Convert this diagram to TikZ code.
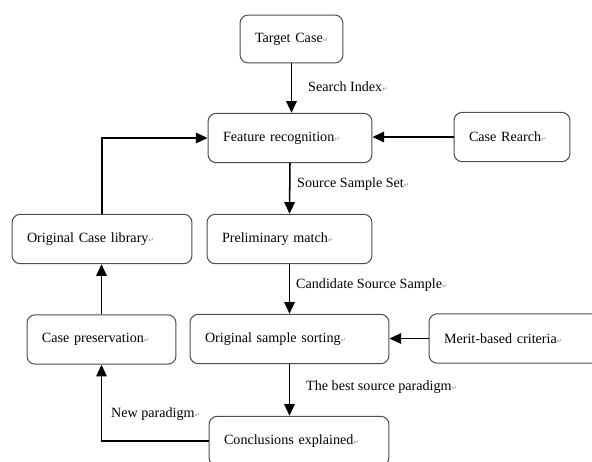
\documentclass[tikz,border=0pt]{standalone}
\usepackage{fontspec}
\setmainfont{Liberation Serif}
\newfontfamily\markfont{DejaVu Sans}
\usetikzlibrary{arrows.meta}

% paragraph mark as printed after each text
\newcommand{\pmark}{{\markfont\fontsize{5.5}{6}\selectfont\textcolor{black!45}{↵}}}

\tikzset{
  stepbox/.style={draw=black!70, line width=0.85pt, rounded corners=7pt,
    align=left, inner xsep=12.75pt, inner ysep=0pt, minimum height=42pt},
  flow/.style={line width=1.3pt, -{Triangle[length=10pt,width=9pt]}},
  lbl/.style={anchor=west, inner sep=0pt}
}

\begin{document}
\begin{tikzpicture}[x=0.8504pt, y=-0.8504pt, font=\fontsize{12}{14}\selectfont]

  \useasboundingbox (0,0) rectangle (592,462);

  % ---------- boxes ----------
  \node[stepbox, text width=62pt, minimum height=40.8pt] (target) at (291.5,39) {\mbox{Target Case\pmark}};
  \node[stepbox, text width=113.9pt] (feature) at (290,138) {Feature recognition\pmark};
  \node[stepbox, text width=73.1pt]  (rearch)  at (512,137) {Case Rearch\pmark};
  \node[stepbox, text width=114.8pt] (prelim)  at (289.5,239) {Preliminary match\pmark};
  \node[stepbox, text width=127.5pt] (library) at (102,239) {Original Case library\pmark};
  \node[stepbox, text width=143.7pt] (sorting) at (289.5,339) {Original sample sorting\pmark};
  \node[stepbox, text width=128.4pt] (merit)   at (519.5,338.5) {Merit-based criteria\pmark};
  \node[stepbox, text width=101.2pt] (preserve) at (101.5,339.5) {Case preservation\pmark};
  \node[stepbox, text width=127.5pt] (concl)   at (299,441) {Conclusions explained\pmark};

  % ---------- main flow ----------
  \draw[flow] (target.south) -- (target.south |- feature.north);
  \draw[flow] (feature.south) -- (prelim.north);
  \draw[flow] (prelim.south) -- (sorting.north);
  \draw[flow] (sorting.south) -- (sorting.south |- concl.north);

  % ---------- side inputs ----------
  \draw[flow] (rearch.west) -- (rearch.west -| feature.east);
  \draw[flow] (merit.west) -- (merit.west -| sorting.east);

  % ---------- feedback loop ----------
  \draw[flow] (concl.west) -| (preserve.south);
  \draw[flow] (preserve.north) -- (preserve.north |- library.south);
  \draw[flow] (library.north) |- (feature.west);

  % ---------- labels ----------
  \node[lbl] (lsearch) at (308,87)  {Search Index\pmark};
  \node[lbl] (lsource) at (297,184) {Source Sample Set\pmark};
  \node[lbl] (lcand)   at (296,285) {Candidate Source Sample\pmark};
  \node[lbl] (lbest)   at (306,387) {The best source paradigm\pmark};
  \node[lbl] (lnew)    at (111,414) {New paradigm\pmark};

\end{tikzpicture}
\end{document}
